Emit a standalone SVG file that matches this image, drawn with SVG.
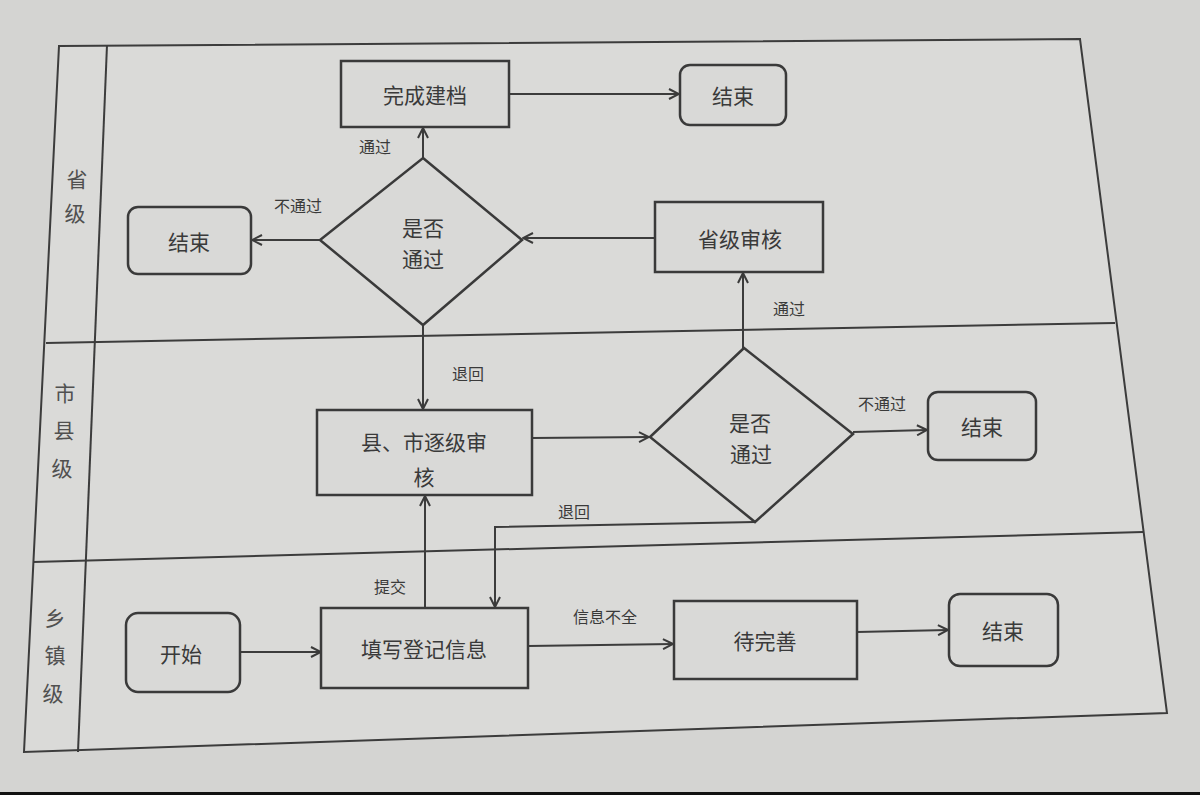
<svg xmlns="http://www.w3.org/2000/svg" width="1200" height="795" viewBox="0 0 1200 795">
<style>
.ln{stroke:#3c3c3c;stroke-width:2;fill:none}
.bx{stroke:#3a3a3a;stroke-width:2.5;fill:#d9d9d7}
.t{font-family:"Noto Sans CJK SC","Liberation Serif",serif;font-size:21px;fill:#3a3a3a;text-anchor:middle;dominant-baseline:central}
.lb{font-family:"Noto Sans CJK SC","Liberation Serif",serif;font-size:16px;fill:#3a3a3a;text-anchor:middle;dominant-baseline:central}
.lane{font-family:"Noto Sans CJK SC","Liberation Serif",serif;font-size:21px;fill:#505050;text-anchor:middle;dominant-baseline:central}
</style>
<defs>
<marker id="ah" viewBox="0 0 12 12" refX="11" refY="6" markerWidth="12" markerHeight="12" markerUnits="userSpaceOnUse" orient="auto">
<path d="M1,1 L11,6 L1,11" fill="none" stroke="#3a3a3a" stroke-width="2"/>
</marker>
</defs>
<rect x="0" y="0" width="1200" height="795" fill="#d4d4d2"/>
<rect x="0" y="792" width="1200" height="3" fill="#111"/>
<g id="frame">
<polygon points="59,46 1080,39 1167,713 24,752" fill="#dadad8" stroke="#3c3c3c" stroke-width="2"/>
<line class="ln" x1="107" y1="45" x2="78" y2="752"/>
<line class="ln" x1="46" y1="343" x2="1115" y2="323"/>
<line class="ln" x1="33" y1="562" x2="1143" y2="532"/>
<text class="lane" x="77" y="178">省</text>
<text class="lane" x="75" y="212">级</text>
<text class="lane" x="65" y="392">市</text>
<text class="lane" x="64" y="429">县</text>
<text class="lane" x="62" y="467">级</text>
<text class="lane" x="55" y="617">乡</text>
<text class="lane" x="55" y="654">镇</text>
<text class="lane" x="53" y="692">级</text>
</g>
<g id="connectors">
<path class="ln" d="M509,94 L679,94" marker-end="url(#ah)"/>
<path class="ln" d="M423,158 L423,128" marker-end="url(#ah)"/>
<path class="ln" d="M320,240 L252,240" marker-end="url(#ah)"/>
<path class="ln" d="M655,238 L523,238" marker-end="url(#ah)"/>
<path class="ln" d="M743,348 L743,273" marker-end="url(#ah)"/>
<path class="ln" d="M423,325 L423,409" marker-end="url(#ah)"/>
<path class="ln" d="M532,438 L649,437" marker-end="url(#ah)"/>
<path class="ln" d="M853,432 L927,430" marker-end="url(#ah)"/>
<path class="ln" d="M755,522 L495,527 L495,607" marker-end="url(#ah)"/>
<path class="ln" d="M425,608 L425,496" marker-end="url(#ah)"/>
<path class="ln" d="M240,652 L321,652" marker-end="url(#ah)"/>
<path class="ln" d="M528,646 L673,644" marker-end="url(#ah)"/>
<path class="ln" d="M857,632 L948,630" marker-end="url(#ah)"/>
<text class="lb" x="375" y="146">通过</text>
<text class="lb" x="298" y="205">不通过</text>
<text class="lb" x="789" y="308">通过</text>
<text class="lb" x="468" y="373">退回</text>
<text class="lb" x="882" y="403">不通过</text>
<text class="lb" x="574" y="511">退回</text>
<text class="lb" x="390" y="586">提交</text>
<text class="lb" x="605" y="616">信息不全</text>
</g>
<g id="n-jiandang"><rect class="bx" x="341" y="61" width="168" height="66"/><text class="t" x="425" y="94">完成建档</text></g>
<g id="n-end1"><rect class="bx" x="680" y="65" width="106" height="60" rx="10"/><text class="t" x="733" y="95">结束</text></g>
<g id="n-dec1"><polygon class="bx" points="423,158 522,240 423,325 320,240"/><text class="t" x="423" y="227">是否</text><text class="t" x="423" y="258">通过</text></g>
<g id="n-end2"><rect class="bx" x="128" y="207" width="123" height="67" rx="10"/><text class="t" x="189" y="241">结束</text></g>
<g id="n-shengji"><rect class="bx" x="655" y="202" width="168" height="70"/><text class="t" x="740" y="238">省级审核</text></g>
<g id="n-xianshi"><rect class="bx" x="317" y="410" width="215" height="85"/><text class="t" x="424" y="441">县、市逐级审</text><text class="t" x="424" y="476">核</text></g>
<g id="n-dec2"><polygon class="bx" points="744,348 853,434 755,522 650,437"/><text class="t" x="750" y="422">是否</text><text class="t" x="751" y="453">通过</text></g>
<g id="n-end3"><rect class="bx" x="928" y="392" width="108" height="68" rx="10"/><text class="t" x="982" y="426">结束</text></g>
<g id="n-start"><rect class="bx" x="126" y="613" width="114" height="79" rx="12"/><text class="t" x="181" y="653">开始</text></g>
<g id="n-tianxie"><rect class="bx" x="321" y="608" width="207" height="80"/><text class="t" x="424" y="648">填写登记信息</text></g>
<g id="n-daiwanshan"><rect class="bx" x="674" y="601" width="183" height="78"/><text class="t" x="765" y="640">待完善</text></g>
<g id="n-end4"><rect class="bx" x="949" y="594" width="109" height="72" rx="11"/><text class="t" x="1003" y="630">结束</text></g>
</svg>
